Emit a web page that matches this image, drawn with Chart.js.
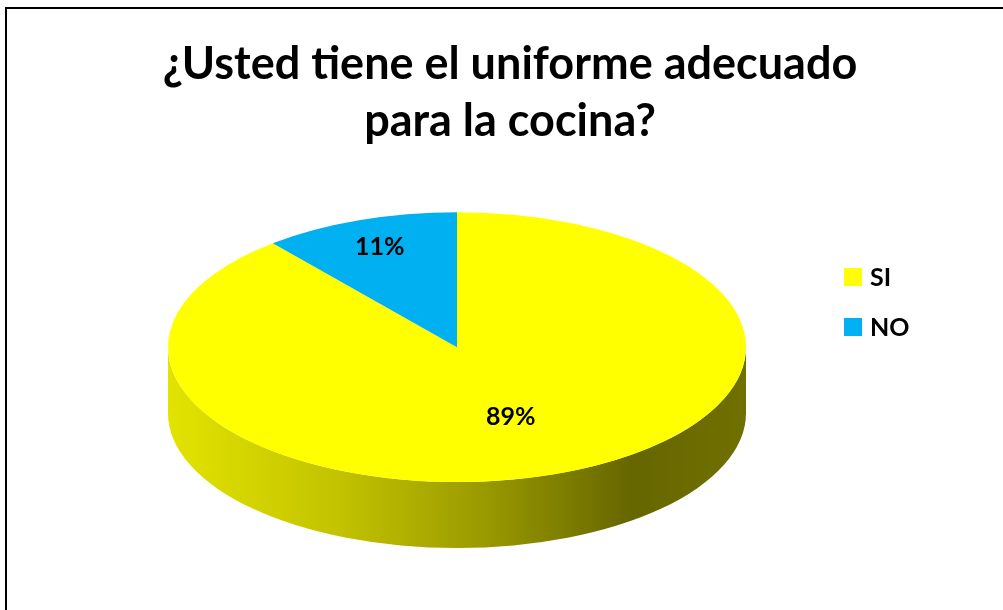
<!DOCTYPE html>
<html>
<head>
<meta charset="utf-8">
<script src="https://cdn.jsdelivr.net/npm/chart.js@4.4.1/dist/chart.umd.min.js"></script>
<style>
  html, body { margin: 0; padding: 0; background: #fff; overflow: hidden; }
  #wrap { position: relative; width: 1003px; height: 610px; }
  #frame { position: absolute; left: 5px; top: 7px; width: 1100px; height: 700px; border: 2px solid #000; box-sizing: border-box; }
  canvas { position: absolute; left: 0; top: 0; }
</style>
</head>
<body>
<div id="wrap">
  <div id="frame"></div>
  <canvas id="c" width="1003" height="610"></canvas>
</div>
<script>
const titleLines = ['¿Usted tiene el uniforme adecuado', 'para la cocina?'];
const categories = ['SI', 'NO'];
const values = [89, 11];
const percentLabels = ['89%', '11%'];
const colors = ['#FFFF00', '#00B0F0'];

const FONT = 'Lato, "Open Sans", sans-serif';
const TILT = 0.467;   // vertical squash of the pie top
const DEPTH = 66;     // thickness of the pie
const TITLE_SHIFT = 53;
const labelRadiusFrac = [0.55, 0.79];

function shade(hex, f) {
  const n = parseInt(hex.slice(1), 16);
  const r = Math.round(((n >> 16) & 255) * f);
  const g = Math.round(((n >> 8) & 255) * f);
  const b = Math.round((n & 255) * f);
  return `rgb(${r},${g},${b})`;
}

const pie3d = {
  id: 'pie3d',
  afterLayout(chart) {
    const t = chart.titleBlock;
    if (t) { t.left += TITLE_SHIFT; t.right += TITLE_SHIFT; }
  },
  beforeDatasetsDraw(chart) {
    const ctx = chart.ctx;
    const arcs = chart.getDatasetMeta(0).data;
    if (!arcs.length) return;
    const cx = arcs[0].x, cy = arcs[0].y;
    arcs.forEach((arc, i) => {
      const rx = arc.outerRadius, ry = rx * TILT;
      const s = arc.startAngle, e = arc.endAngle;
      [0, 2 * Math.PI, -2 * Math.PI].forEach(shift => {
        const a0 = Math.max(s, shift), a1 = Math.min(e, shift + Math.PI);
        if (a1 <= a0) return;
        const g = ctx.createLinearGradient(cx - rx, 0, cx + rx, 0);
        const base = colors[i];
        g.addColorStop(0, shade(base, 0.89));
        g.addColorStop(0.3, shade(base, 0.76));
        g.addColorStop(0.55, shade(base, 0.6));
        g.addColorStop(0.8, shade(base, 0.4));
        g.addColorStop(1, shade(base, 0.44));
        ctx.save();
        ctx.beginPath();
        ctx.ellipse(cx, cy, rx, ry, 0, a0, a1, false);
        ctx.ellipse(cx, cy + DEPTH, rx, ry, 0, a1, a0, true);
        ctx.closePath();
        ctx.fillStyle = g;
        ctx.fill();
        ctx.restore();
      });
    });
    ctx.save();
    ctx.translate(cx, cy);
    ctx.scale(1, TILT);
    ctx.translate(-cx, -cy);
  },
  afterDatasetsDraw(chart) {
    const ctx = chart.ctx;
    ctx.restore();
    const arcs = chart.getDatasetMeta(0).data;
    ctx.save();
    ctx.fillStyle = '#000';
    ctx.font = 'bold 25px ' + FONT;
    ctx.textAlign = 'center';
    ctx.textBaseline = 'middle';
    arcs.forEach((arc, i) => {
      const mid = (arc.startAngle + arc.endAngle) / 2;
      const r = arc.outerRadius * labelRadiusFrac[i];
      const x = arc.x + Math.cos(mid) * r;
      const y = arc.y + Math.sin(mid) * r * TILT;
      ctx.fillText(percentLabels[i], x, y);
    });
    ctx.textAlign = 'left';
    categories.forEach((c, i) => {
      const y = 277 + i * 50;
      ctx.fillStyle = colors[i];
      ctx.fillRect(844, y - 9, 18, 18);
      ctx.fillStyle = '#000';
      ctx.fillText(c, 870, y + 1);
    });
    ctx.restore();
  }
};

new Chart(document.getElementById('c'), {
  type: 'pie',
  data: {
    labels: categories,
    datasets: [{
      data: values,
      backgroundColor: colors,
      borderWidth: 0,
      radius: 289
    }]
  },
  options: {
    responsive: false,
    animation: false,
    events: [],
    layout: { padding: { left: 0, right: 89, top: 26, bottom: 76 } },
    plugins: {
      legend: { display: false },
      tooltip: { enabled: false },
      title: {
        display: true,
        text: titleLines,
        color: '#000',
        font: { family: FONT, size: 45, weight: 'bold', lineHeight: 1.27 },
        padding: { top: 10, bottom: 10 }
      }
    }
  },
  plugins: [pie3d]
});
</script>
</body>
</html>
